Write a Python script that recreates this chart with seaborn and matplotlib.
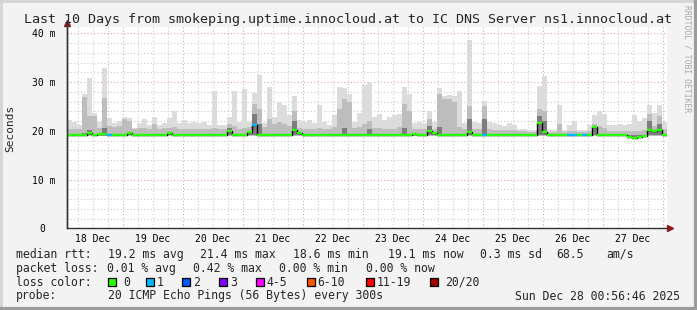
import numpy as np
import pandas as pd
import matplotlib
matplotlib.use("Agg")
import matplotlib.pyplot as plt
from matplotlib.patches import Rectangle
from matplotlib.lines import Line2D
from matplotlib.transforms import ScaledTranslation
import seaborn as sns

# ---------------- data (ms, 2-hour bins over the last 10 days) ----------------
smoke_max = [22.3, 21.9, 21.1, 27.5, 30.8, 23.6, 21.9, 32.9, 22.6, 21.6,
             22.1, 22.9, 22.6, 20.5, 21.6, 22.5, 21.2, 22.9, 21.1, 21.6,
             22.6, 24.1, 21.6, 22.3, 21.6, 21.9, 21.6, 21.9, 21.2, 28.2,
             21.2, 21.2, 22.9, 28.1, 21.9, 28.6, 21.9, 27.7, 31.5, 21.6,
             28.9, 22.9, 26.0, 25.3, 23.3, 27.1, 22.3, 21.9, 22.3, 21.6,
             25.2, 21.9, 21.2, 23.3, 28.9, 28.8, 27.5, 21.9, 23.6, 29.5,
             30.0, 22.9, 23.4, 22.3, 22.9, 23.2, 23.4, 29.0, 27.5, 21.6,
             21.9, 21.6, 24.0, 21.9, 28.8, 27.1, 27.4, 27.1, 28.1, 21.6,
             38.6, 21.9, 21.6, 26.2, 21.9, 21.6, 21.2, 20.9, 21.6, 21.2,
             20.4, 20.4, 20.2, 20.2, 29.1, 31.2, 20.2, 20.2, 25.2, 20.2,
             21.1, 22.1, 20.2, 20.2, 21.1, 23.3, 24.1, 23.4, 21.2, 21.2,
             21.4, 21.2, 21.4, 23.3, 22.1, 22.6, 25.2, 23.6, 25.2, 21.9]

smoke_q3 = [20.3, 20.3, 20.4, 27.0, 23.0, 23.0, 20.6, 26.7, 21.0, 20.8,
            21.0, 22.5, 22.0, 20.3, 20.5, 20.5, 20.3, 21.5, 20.3, 20.5,
            20.6, 20.8, 20.3, 20.4, 20.3, 20.3, 20.3, 20.3, 20.3, 20.5,
            20.3, 20.3, 21.5, 21.0, 20.3, 20.5, 20.8, 25.5, 24.5, 20.8,
            22.5, 21.5, 21.8, 21.5, 21.0, 24.0, 20.6, 20.4, 20.4, 20.3,
            20.6, 20.3, 20.3, 20.8, 24.5, 26.5, 26.0, 20.5, 20.8, 21.5,
            22.0, 20.5, 20.5, 20.3, 20.4, 20.4, 20.8, 25.5, 24.0, 20.3,
            20.4, 20.3, 22.5, 20.4, 27.5, 26.5, 26.5, 26.0, 20.8, 20.3,
            25.0, 20.3, 20.3, 25.0, 20.3, 20.2, 20.2, 20.1, 20.2, 20.1,
            19.9, 19.9, 19.8, 19.8, 24.5, 24.0, 19.8, 19.8, 21.5, 19.8,
            19.9, 19.9, 19.8, 19.8, 19.9, 21.5, 21.0, 20.5, 20.0, 19.9,
            19.9, 19.9, 19.9, 20.0, 20.0, 20.2, 23.5, 21.0, 23.0, 20.3]

smoke_core = [19.3, 19.3, 19.3, 19.6, 20.2, 19.4, 19.4, 20.6, 19.3, 19.3,
              19.3, 19.4, 19.6, 19.3, 19.3, 19.3, 19.3, 19.3, 19.3, 19.3,
              19.7, 19.3, 19.3, 19.3, 19.3, 19.3, 19.3, 19.3, 19.3, 19.3,
              19.3, 19.3, 20.5, 19.3, 19.3, 19.3, 19.9, 23.5, 21.5, 19.3,
              19.4, 19.3, 19.3, 19.3, 19.3, 22.0, 19.6, 19.3, 19.3, 19.3,
              19.3, 19.3, 19.3, 19.3, 19.3, 20.5, 19.3, 19.3, 19.3, 19.3,
              20.3, 19.3, 19.3, 19.3, 19.3, 19.3, 19.3, 20.5, 19.3, 19.5,
              19.3, 19.3, 21.0, 19.6, 20.8, 19.3, 19.3, 19.3, 19.3, 19.3,
              22.5, 19.3, 19.3, 22.5, 19.3, 19.3, 19.3, 19.3, 19.3, 19.3,
              19.3, 19.3, 19.3, 19.3, 23.0, 22.0, 19.3, 19.3, 19.3, 19.3,
              19.3, 19.3, 19.3, 19.3, 19.3, 21.0, 19.3, 19.3, 19.3, 19.3,
              19.3, 19.3, 18.9, 18.7, 18.8, 19.0, 22.0, 20.1, 21.5, 19.3]

median_rtt = [19.2, 19.2, 19.2, 19.2, 19.5, 19.2, 19.4, 19.3, 19.2, 19.2,
              19.2, 19.2, 19.5, 19.2, 19.2, 19.2, 19.2, 19.2, 19.2, 19.2,
              19.6, 19.2, 19.2, 19.2, 19.2, 19.2, 19.2, 19.2, 19.2, 19.2,
              19.2, 19.2, 19.9, 19.2, 19.2, 19.2, 19.8, 21.1, 19.2, 19.2,
              19.2, 19.2, 19.2, 19.2, 19.2, 20.2, 19.5, 19.2, 19.2, 19.2,
              19.2, 19.2, 19.2, 19.2, 19.2, 19.2, 19.2, 19.2, 19.2, 19.2,
              19.2, 19.2, 19.2, 19.2, 19.2, 19.2, 19.2, 19.2, 19.2, 19.4,
              19.2, 19.2, 20.0, 19.5, 19.2, 19.2, 19.2, 19.2, 19.2, 19.2,
              19.7, 19.2, 19.2, 19.2, 19.2, 19.2, 19.2, 19.2, 19.2, 19.2,
              19.2, 19.2, 19.2, 19.2, 21.6, 19.8, 19.2, 19.2, 19.2, 19.2,
              19.2, 19.2, 19.2, 19.2, 19.2, 20.7, 19.2, 19.2, 19.2, 19.2,
              19.2, 19.2, 18.8, 18.6, 18.7, 18.9, 20.2, 20.0, 20.2, 19.2]

loss_count = [0, 0, 0, 0, 0, 0, 0, 0, 1, 0,
              0, 0, 0, 0, 0, 0, 0, 0, 0, 0,
              0, 0, 0, 0, 0, 0, 0, 0, 0, 0,
              0, 0, 0, 0, 0, 0, 0, 1, 0, 0,
              0, 0, 0, 0, 0, 0, 0, 0, 0, 0,
              0, 0, 0, 0, 0, 0, 0, 0, 0, 0,
              0, 0, 0, 0, 0, 0, 0, 0, 0, 0,
              0, 0, 0, 0, 0, 0, 0, 0, 0, 0,
              0, 0, 0, 1, 0, 0, 0, 0, 0, 0,
              0, 0, 0, 0, 0, 0, 0, 0, 0, 0,
              1, 1, 0, 1, 0, 0, 0, 0, 0, 0,
              0, 0, 0, 0, 0, 0, 0, 0, 0, 0]

smoke_floor = 18.9
day_labels = ["18 Dec", "19 Dec", "20 Dec", "21 Dec", "22 Dec",
              "23 Dec", "24 Dec", "25 Dec", "26 Dec", "27 Dec"]
y_ticks = [0, 10, 20, 30, 40]
y_tick_labels = ["0", "10 m", "20 m", "30 m", "40 m"]
loss_labels = ["0", "1", "2", "3", "4-5", "6-10", "11-19", "20/20"]
loss_colors = ["#26ff00", "#00b8ff", "#0059ff", "#7e00ff",
               "#ff00ff", "#ff5500", "#ff0000", "#a10000"]
title = "Last 10 Days from smokeping.uptime.innocloud.at to IC DNS Server ns1.innocloud.at"

# time base: hours after 18 Dec 00:00, 2-hour bins
t_start, t_end, bin_h = 1.6, 241.6, 2.0
t = t_start + bin_h * np.arange(len(smoke_max))
edges = np.append(t, t[-1] + bin_h)


def ext(a):
    a = np.asarray(a, dtype=float)
    return np.append(a, a[-1])


# ---------------- figure ----------------
W, H = 697, 310
sns.set_style("white")
plt.rcParams["font.family"] = ["DejaVu Sans Mono", "DejaVu Sans"]
fig = plt.figure(figsize=(W / 100, H / 100), dpi=100)
fig.patch.set_facecolor("#f3f3f3")


def px(x, y):
    return x / W, 1 - y / H


ax_left, ax_right, ax_top, ax_bot = 67, 667, 27, 228.3
ax = fig.add_axes([ax_left / W, 1 - ax_bot / H, (ax_right - ax_left) / W, (ax_bot - ax_top) / H])
ax.set_facecolor("white")
ax.set_xlim(t_start, t_end)
ax.set_ylim(0, 41.3)

# grid (minor grey every 6h / 2 ms, major red every day / 10 ms)
minor_kw = dict(color="#cacaca", lw=0.8, ls=(0, (1, 2)), zorder=0.5)
major_kw = dict(color="#e0a4a4", lw=0.8, ls=(0, (1, 2)), zorder=0.6)
for h in range(6, 241, 6):
    if h % 24:
        ax.axvline(h, **minor_kw)
for h in range(24, 241, 24):
    ax.axvline(h, **major_kw)
for v in range(2, 41, 2):
    if v % 10:
        ax.axhline(v, **minor_kw)
for v in range(10, 41, 10):
    ax.axhline(v, **major_kw)

# smoke layers
ax.fill_between(edges, smoke_floor, ext(smoke_max), step="post", color="#dcdcdc", lw=0, zorder=1)
ax.fill_between(edges, smoke_floor + 0.1, ext(smoke_q3), step="post", color="#bdbdbd", lw=0, zorder=1.1)
ax.fill_between(edges, smoke_floor + 0.2, ext(smoke_core), step="post", color="#7d7d7d", lw=0, zorder=1.2)

# median line: black steps, then loss-coloured segments
df = pd.DataFrame({"t": edges, "median": ext(median_rtt)})
sns.lineplot(data=df, x="t", y="median", ax=ax, drawstyle="steps-post",
             color="black", lw=1.0, zorder=2)
seg_colors = [loss_colors[c] for c in loss_count]
ax.hlines(median_rtt, t, t + bin_h, colors=seg_colors, lw=1.7, zorder=3)
ax.set_xlabel("")
ax.set_ylabel("")

# axes / ticks
for s in ["top", "right"]:
    ax.spines[s].set_visible(False)
for s in ["left", "bottom"]:
    ax.spines[s].set_color("#333333")
    ax.spines[s].set_linewidth(1.0)
ax.set_xticks([12 + 24 * i for i in range(len(day_labels))])
ax.set_xticklabels(day_labels)
ax.tick_params(axis="x", length=0, pad=4, labelsize=7, colors="black")
ax.set_yticks(y_ticks)
ax.set_yticklabels(y_tick_labels)
ax.tick_params(axis="y", length=3, width=0.8, pad=5, labelsize=7, colors="black")
zl = ax.get_yticklabels()[0]
zl.set_transform(zl.get_transform() + ScaledTranslation(-0.11, 0, fig.dpi_scale_trans))
ax.grid(False)

# arrowheads
ax.plot([1.005], [0], marker=">", ms=4.5, color="#8b1a1a", transform=ax.transAxes, clip_on=False, zorder=5)
ax.plot([0], [1.02], marker="^", ms=4.5, color="#8b1a1a", transform=ax.transAxes, clip_on=False, zorder=5)
fig.add_artist(Line2D([px(67, 0)[0]] * 2, [px(0, 228)[1], px(0, 23)[1]], color="#333333", lw=1.0))

# texts
fig.text(*px(348.5, 19), title, ha="center", va="center", fontsize=9.6)
fig.text(*px(10, 128), "Seconds", ha="center", va="center", rotation=90, fontsize=8)
fig.text(*px(686.5, 5), "RRDTOOL / TOBI OETIKER", ha="center", va="top",
         rotation=-90, fontsize=5.8, color="#a8a8a8")

fs = 8.3
line1 = [(16, "median rtt:"), (108, "19.2 ms avg"), (200, "21.4 ms max"),
         (293, "18.6 ms min"), (388, "19.1 ms now"), (480, "0.3 ms sd"),
         (556.5, "68.5"), (606.5, "am/s")]
for x, s in line1:
    fig.text(*px(x, 254.3), s, ha="left", va="center", fontsize=fs)
line2 = [(16, "packet loss:"), (107.3, "0.01 % avg"), (193.3, "0.42 % max"),
         (279, "0.00 % min"), (365.7, "0.00 % now")]
for x, s in line2:
    fig.text(*px(x, 268.3), s, ha="left", va="center", fontsize=fs)
fig.text(*px(16, 282.3), "loss color:", ha="left", va="center", fontsize=fs)
box_x = [108.3, 145.7, 182.3, 219, 255.7, 306.7, 365.7, 430]
lbl_x = [123, 156.7, 193.3, 230, 266.7, 317.7, 376.7, 445]
for bx, lx, lab, col in zip(box_x, lbl_x, loss_labels, loss_colors):
    x0, y0 = px(bx, 286.3)
    fig.add_artist(Rectangle((x0, y0), 8 / W, 8 / H, transform=fig.transFigure,
                             facecolor=col, edgecolor="black", lw=0.9))
    fig.text(*px(lx, 282.3), lab, ha="left", va="center", fontsize=fs)
fig.text(*px(16, 296), "probe:", ha="left", va="center", fontsize=fs)
fig.text(*px(107.7, 296), "20 ICMP Echo Pings (56 Bytes) every 300s", ha="left", va="center", fontsize=fs)
fig.text(*px(680, 296), "Sun Dec 28 00:56:46 2025", ha="right", va="center", fontsize=fs)

# bevel frame
fig.add_artist(Line2D([0, 1], [1 - 1 / H, 1 - 1 / H], color="#d4d4d4", lw=2))
fig.add_artist(Line2D([1 / W, 1 / W], [0, 1], color="#d4d4d4", lw=2))
fig.add_artist(Line2D([1 - 1.5 / W, 1 - 1.5 / W], [0, 1], color="#9c9c9c", lw=3))
fig.add_artist(Line2D([0, 1], [1.5 / H, 1.5 / H], color="#9c9c9c", lw=3))

fig.savefig("out.png", dpi=100, facecolor=fig.get_facecolor())
